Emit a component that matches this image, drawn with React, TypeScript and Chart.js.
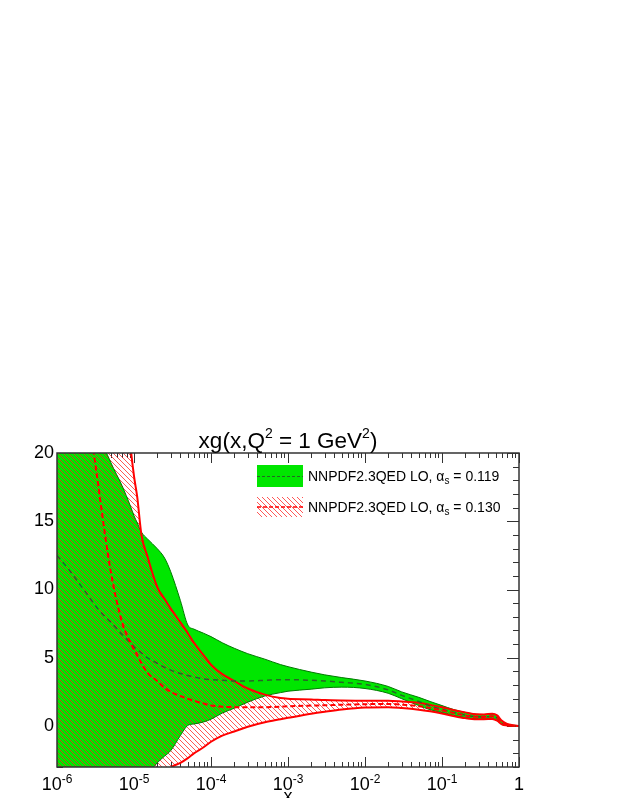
import React, { useEffect, useRef } from 'react';
import { Chart, registerables } from 'chart.js';

Chart.register(...registerables);

// ---- data ----
const xValues = [
  1e-6, 1.5e-6, 2.5e-6, 3.5e-6, 5e-6, 7e-6, 9e-6, 1e-5, 1.1e-5, 1.25e-5, 1.5e-5,
  2e-5, 2.5e-5, 3e-5, 4e-5, 5e-5, 6e-5, 8e-5, 1e-4, 1.4e-4, 2e-4, 3e-4, 5e-4, 8e-4,
  1e-3, 2e-3, 3e-3, 5e-3, 1e-2, 2e-2, 3e-2, 5e-2, 7e-2, 0.1, 0.14, 0.2, 0.28, 0.35,
  0.45, 0.52, 0.6, 0.7, 0.83, 1,
];

// alpha_s = 0.119 (green band)
const greenUpper = [
  40, 32, 25, 21.5, 19.3, 17.6, 16.1, 15.4, 14.9, 14.2, 13.7, 13.0, 12.3, 11.3, 9.2,
  7.4, 7.1, 6.8, 6.55, 6.1, 5.7, 5.3, 4.9, 4.5, 4.35, 3.95, 3.75, 3.55, 3.3, 2.9, 2.5,
  2.1, 1.8, 1.5, 1.22, 1.0, 0.86, 0.84, 0.88, 0.76, 0.36, 0.15, 0.06, 0,
];
const greenLower = [
  -25, -20, -15, -12, -9.5, -7.5, -6.3, -5.7, -5.2, -4.5, -3.6, -2.7, -2.2, -1.8, -0.7,
  0.05, 0.15, 0.3, 0.5, 0.95, 1.3, 1.75, 2.2, 2.45, 2.55, 2.7, 2.8, 2.85, 2.75, 2.4, 2.0,
  1.5, 1.2, 0.98, 0.78, 0.62, 0.52, 0.5, 0.52, 0.4, 0.12, 0.04, 0.01, 0,
];
const greenCentral = [
  12.5, 11.3, 9.6, 8.5, 7.6, 6.7, 6.1, 5.8, 5.6, 5.35, 5.0, 4.6, 4.3, 4.1, 3.85, 3.7,
  3.6, 3.45, 3.4, 3.35, 3.3, 3.3, 3.35, 3.4, 3.4, 3.35, 3.3, 3.2, 3.05, 2.65, 2.25, 1.8,
  1.48, 1.22, 1.0, 0.8, 0.68, 0.66, 0.7, 0.58, 0.23, 0.09, 0.03, 0,
];

// alpha_s = 0.130 (red hatched band)
const redUpper = [
  120, 90, 60, 45, 35, 27, 20.5, 18.3, 16.8, 14.0, 12.4, 10.2, 9.3, 8.6, 7.6, 6.8, 6.1,
  5.2, 4.5, 3.8, 3.3, 2.75, 2.3, 2.05, 2.0, 1.95, 1.9, 1.87, 1.85, 1.85, 1.8, 1.7, 1.55,
  1.38, 1.18, 1.0, 0.86, 0.85, 0.9, 0.78, 0.38, 0.16, 0.06, 0,
];
const redLower = [
  -40, -32, -24, -19, -14, -10.5, -8.8, -8, -7.4, -6.6, -5.6, -4.4, -3.6, -3.05, -2.7,
  -2.35, -2.0, -1.55, -1.15, -0.7, -0.4, -0.05, 0.28, 0.5, 0.6, 0.9, 1.05, 1.22, 1.36,
  1.38, 1.32, 1.2, 1.08, 0.92, 0.74, 0.58, 0.5, 0.5, 0.52, 0.4, 0.12, 0.04, 0.01, 0,
];
const redCentral = [
  60, 42, 24, 17.3, 11.3, 7.6, 6.1, 5.6, 5.2, 4.6, 3.9, 3.3, 2.8, 2.5, 2.2, 2.0, 1.85,
  1.65, 1.5, 1.42, 1.38, 1.37, 1.38, 1.42, 1.45, 1.5, 1.52, 1.56, 1.6, 1.62, 1.57, 1.45,
  1.32, 1.15, 0.96, 0.78, 0.68, 0.67, 0.71, 0.59, 0.24, 0.1, 0.03, 0,
];

// axes / ticks / labels
const yTickValues = [0, 5, 10, 15, 20];
const xDecades = [1e-6, 1e-5, 1e-4, 1e-3, 1e-2, 1e-1, 1];
const xTickBase = ['10', '10', '10', '10', '10', '10', '1'];
const xTickExp = ['-6', '-5', '-4', '-3', '-2', '-1', ''];
const titleParts = ['xg(x,Q', '2', ' = 1 GeV', '2', ')'];
const legendLabels = ['NNPDF2.3QED LO, α', 'NNPDF2.3QED LO, α'];
const legendValues = [' = 0.119', ' = 0.130'];
const xAxisTitle = 'x';

const FONT = '"Liberation Sans", Arial, Helvetica, sans-serif';
const GREEN_FILL = 'rgb(0,230,0)';
const GREEN_EDGE = 'rgb(0,120,0)';
const GREEN_DASH = 'rgb(40,100,40)';
const RED = 'rgb(255,0,0)';
const AXIS = '#333';

function makeHatch(): CanvasPattern | string {
  const c = document.createElement('canvas');
  c.width = 5;
  c.height = 5;
  const g = c.getContext('2d');
  if (!g) return 'rgba(255,0,0,0.3)';
  g.strokeStyle = 'rgba(255,30,30,0.75)';
  g.lineWidth = 1;
  g.beginPath();
  g.moveTo(-1, -1);
  g.lineTo(6, 6);
  g.moveTo(-1, 4);
  g.lineTo(1, 6);
  g.moveTo(4, -1);
  g.lineTo(6, 1);
  g.stroke();
  return g.createPattern(c, 'repeat') || 'rgba(255,0,0,0.3)';
}

const pts = (arr: number[]) => xValues.map((x, i) => ({ x, y: arr[i] }));

export default function App() {
  const ref = useRef<HTMLCanvasElement | null>(null);

  useEffect(() => {
    if (!ref.current) return;
    const hatch = makeHatch();

    const axisPlugin = {
      id: 'rootAxes',
      beforeDraw(chart: any) {
        const { ctx, chartArea } = chart;
        const { left, right, top, bottom } = chartArea;
        const xs = chart.scales.x;
        const ys = chart.scales.y;
        ctx.save();
        ctx.strokeStyle = AXIS;
        ctx.lineWidth = 1;
        ctx.beginPath();
        for (let d = 0; d < xDecades.length; d++) {
          const px = Math.round(xs.getPixelForValue(xDecades[d])) + 0.5;
          ctx.moveTo(px, bottom);
          ctx.lineTo(px, bottom - 10);
          ctx.moveTo(px, top);
          ctx.lineTo(px, top + 10);
          if (d < xDecades.length - 1) {
            for (let k = 2; k <= 9; k++) {
              const mx = Math.round(xs.getPixelForValue(xDecades[d] * k)) + 0.5;
              ctx.moveTo(mx, bottom);
              ctx.lineTo(mx, bottom - 5);
              ctx.moveTo(mx, top);
              ctx.lineTo(mx, top + 5);
            }
          }
        }
        for (let v = Math.ceil(ys.min); v <= ys.max; v++) {
          const py = Math.round(ys.getPixelForValue(v)) + 0.5;
          const len = v % 5 === 0 ? 12 : 6;
          ctx.moveTo(left, py);
          ctx.lineTo(left + len, py);
          ctx.moveTo(right, py);
          ctx.lineTo(right - len, py);
        }
        ctx.stroke();
        ctx.restore();
      },
      afterDraw(chart: any) {
        const { ctx, chartArea } = chart;
        const { left, right, top, bottom } = chartArea;
        const xs = chart.scales.x;
        ctx.save();
        ctx.strokeStyle = AXIS;
        ctx.lineWidth = 1.5;
        ctx.strokeRect(left, top, right - left, bottom - top);

        ctx.fillStyle = '#000';
        ctx.textBaseline = 'alphabetic';
        ctx.textAlign = 'left';

        const baseFont = `18px ${FONT}`;
        const supFont = `12px ${FONT}`;
        for (let i = 0; i < xDecades.length; i++) {
          const px = xs.getPixelForValue(xDecades[i]);
          ctx.font = baseFont;
          const wb = ctx.measureText(xTickBase[i]).width;
          ctx.font = supFont;
          const we = xTickExp[i] ? ctx.measureText(xTickExp[i]).width : 0;
          const x0 = px - (wb + we) / 2;
          ctx.font = baseFont;
          ctx.fillText(xTickBase[i], x0, 782);
          if (xTickExp[i]) {
            ctx.font = supFont;
            ctx.fillText(xTickExp[i], x0 + wb, 775);
          }
        }
        ctx.font = `18px ${FONT}`;
        ctx.textAlign = 'center';
        ctx.fillText(xAxisTitle, (left + right) / 2, 794);

        ctx.textAlign = 'left';
        const tMain = `22.5px ${FONT}`;
        const tSup = `14px ${FONT}`;
        let tw = 0;
        const widths = titleParts.map((p, i) => {
          ctx.font = i % 2 === 1 ? tSup : tMain;
          const w = ctx.measureText(p).width;
          tw += w;
          return w;
        });
        let tx = (left + right) / 2 - tw / 2;
        titleParts.forEach((p, i) => {
          ctx.font = i % 2 === 1 ? tSup : tMain;
          ctx.fillText(p, tx, i % 2 === 1 ? 430 : 440);
          tx += widths[i];
        });

        const bx = 249;
        const bw = 46;
        ctx.fillStyle = GREEN_FILL;
        ctx.fillRect(bx, 457, bw, 22);
        ctx.strokeStyle = GREEN_DASH;
        ctx.lineWidth = 1;
        ctx.setLineDash([3, 2]);
        ctx.beginPath();
        ctx.moveTo(bx, 468.5);
        ctx.lineTo(bx + bw, 468.5);
        ctx.stroke();
        ctx.setLineDash([]);
        ctx.fillStyle = hatch as any;
        ctx.fillRect(bx, 489, bw, 20);
        ctx.strokeStyle = RED;
        ctx.lineWidth = 1.5;
        ctx.setLineDash([4, 2]);
        ctx.beginPath();
        ctx.moveTo(bx, 499);
        ctx.lineTo(bx + bw, 499);
        ctx.stroke();
        ctx.setLineDash([]);

        const baselines = [472.5, 503.5];
        ctx.fillStyle = '#000';
        for (let i = 0; i < 2; i++) {
          let lx = 300;
          ctx.font = `14px ${FONT}`;
          ctx.fillText(legendLabels[i], lx, baselines[i]);
          lx += ctx.measureText(legendLabels[i]).width;
          ctx.font = `10px ${FONT}`;
          ctx.fillText('s', lx, baselines[i] + 3);
          lx += ctx.measureText('s').width;
          ctx.font = `14px ${FONT}`;
          ctx.fillText(legendValues[i], lx, baselines[i]);
        }
        ctx.restore();
      },
    };

    const chart = new Chart(ref.current, {
      type: 'line',
      data: {
        datasets: [
          { label: 'gL', data: pts(greenLower), borderColor: GREEN_EDGE, borderWidth: 1, fill: false, order: 6 },
          { label: 'gU', data: pts(greenUpper), borderColor: GREEN_EDGE, borderWidth: 1, backgroundColor: GREEN_FILL, fill: 0, order: 5 },
          { label: 'rL', data: pts(redLower), borderColor: RED, borderWidth: 2, fill: false, order: 4 },
          { label: 'rU', data: pts(redUpper), borderColor: RED, borderWidth: 2, backgroundColor: hatch as any, fill: 2, order: 3 },
          { label: 'gC', data: pts(greenCentral), borderColor: GREEN_DASH, borderWidth: 1.5, borderDash: [5, 4], fill: false, order: 2 },
          { label: 'rC', data: pts(redCentral), borderColor: RED, borderWidth: 2, borderDash: [5, 3], fill: false, order: 1 },
        ] as any,
      },
      options: {
        responsive: false,
        maintainAspectRatio: false,
        animation: false,
        devicePixelRatio: 1,
        events: [],
        layout: { padding: { top: 445, right: 96, left: 0, bottom: 0 } },
        elements: {
          point: { radius: 0 },
          line: { cubicInterpolationMode: 'monotone' },
        },
        plugins: {
          legend: { display: false },
          title: { display: false },
          tooltip: { enabled: false },
          filler: { drawTime: 'beforeDatasetsDraw' },
        } as any,
        scales: {
          x: {
            type: 'logarithmic',
            min: 1e-6,
            max: 1,
            grid: { display: false },
            border: { display: false },
            ticks: { display: false },
            afterFit: (s: any) => {
              s.height = 39;
            },
          },
          y: {
            type: 'linear',
            min: -3,
            max: 20,
            grid: { display: false, drawTicks: false },
            border: { display: false },
            ticks: { color: '#000', padding: 3, font: { family: FONT, size: 18 } },
            afterBuildTicks: (s: any) => {
              s.ticks = yTickValues.map((v) => ({ value: v }));
            },
            afterFit: (s: any) => {
              s.width = 49;
            },
          },
        } as any,
      },
      plugins: [axisPlugin],
    });
    return () => chart.destroy();
  }, []);

  return (
    <div style={{ width: 607, height: 790 }}>
      <canvas ref={ref} width={607} height={798} style={{ display: 'block' }} />
    </div>
  );
}
